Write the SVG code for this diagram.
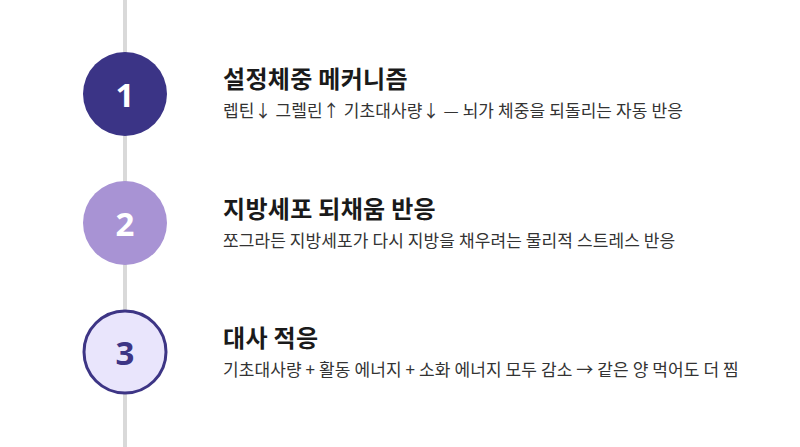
<svg xmlns="http://www.w3.org/2000/svg" width="800" height="447" viewBox="0 0 800 447">
<style>
.title{font-family:"Noto Sans CJK KR","Noto Sans",sans-serif;font-weight:700;font-size:24px;letter-spacing:0.3px;fill:#1a1a1a}
.sub{font-family:"Noto Sans CJK KR","Noto Sans",sans-serif;font-weight:400;font-size:17px;letter-spacing:0.1px;fill:#333333}
.num{font-family:"Noto Sans","Inter",sans-serif;font-weight:700;font-size:33px;text-anchor:middle;dominant-baseline:central}
</style>
<rect width="800" height="447" fill="#ffffff"/>
<g id="connectors">
<line x1="125" y1="0" x2="125" y2="447" stroke="#d9d9d9" stroke-width="4"/>
</g>
<g id="step1">
<circle cx="125" cy="94" r="42" fill="#3b3486"/>
<text class="num" x="125" y="94" fill="#ffffff">1</text>
<text class="title" x="223" y="88">설정체중 메커니즘</text>
<text class="sub" x="223" y="117">렙틴↓ 그렐린↑ 기초대사량↓ — 뇌가 체중을 되돌리는 자동 반응</text>
</g>
<g id="step2">
<circle cx="125" cy="223" r="42" fill="#a893d4"/>
<text class="num" x="125" y="223" fill="#ffffff">2</text>
<text class="title" x="223" y="218">지방세포 되채움 반응</text>
<text class="sub" x="223" y="247">쪼그라든 지방세포가 다시 지방을 채우려는 물리적 스트레스 반응</text>
</g>
<g id="step3">
<circle cx="125" cy="352" r="41" fill="#e9e5fc" stroke="#3d3585" stroke-width="3"/>
<text class="num" x="125" y="352" fill="#3d3585">3</text>
<text class="title" x="223" y="347">대사 적응</text>
<text class="sub" x="223" y="376">기초대사량 + 활동 에너지 + 소화 에너지 모두 감소 → 같은 양 먹어도 더 찜</text>
</g>
</svg>
